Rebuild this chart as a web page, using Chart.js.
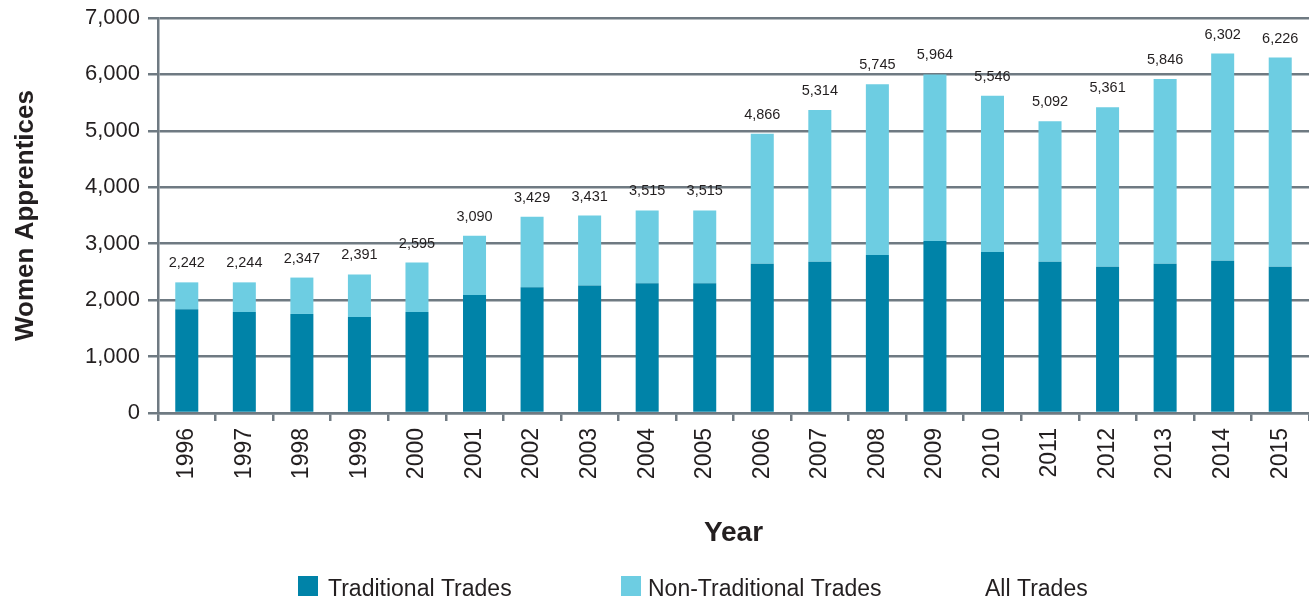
<!DOCTYPE html>
<html>
<head>
<meta charset="utf-8">
<title>Women Apprentices by Year</title>
<script src="https://cdn.jsdelivr.net/npm/chart.js@4.4.1/dist/chart.umd.min.js"></script>
<style>
  body { margin: 0; background: #fff; }
  .chart_box { width: 1309px; height: 601px; position: relative; }
</style>
</head>
<body>
<div class="chart_box"><canvas id="myChart"></canvas></div>
<script>
const years = ['1996', '1997', '1998', '1999', '2000', '2001', '2002', '2003', '2004', '2005',
               '2006', '2007', '2008', '2009', '2010', '2011', '2012', '2013', '2014', '2015'];
const traditional = [1840, 1790, 1755, 1700, 1790, 2090, 2230, 2260, 2300, 2300,
                     2645, 2680, 2800, 3050, 2855, 2680, 2590, 2645, 2700, 2590];
const nonTraditional = [475, 525, 645, 755, 875, 1050, 1250, 1240, 1290, 1290,
                        2305, 2690, 3025, 2950, 2765, 2490, 2830, 3275, 3670, 3710];
const allTrades = [2242, 2244, 2347, 2391, 2595, 3090, 3429, 3431, 3515, 3515,
                   4866, 5314, 5745, 5964, 5546, 5092, 5361, 5846, 6302, 6226];

const darkTeal = '#0083a8';
const lightBlue = '#6dcde2';
const gridGray = '#6f7a82';
const textColor = '#231f20';
const fontFamily = '"Liberation Sans", Arial, sans-serif';

Chart.defaults.font.family = fontFamily;
Chart.defaults.color = textColor;

// All Trades numbers sit just above each stacked bar
const totalLabels = {
  id: 'totalLabels',
  afterDatasetsDraw(chart) {
    const ctx = chart.ctx;
    const topBars = chart.getDatasetMeta(1).data;
    ctx.save();
    ctx.font = '14.5px ' + fontFamily;
    ctx.fillStyle = textColor;
    ctx.textAlign = 'center';
    ctx.textBaseline = 'alphabetic';
    topBars.forEach((bar, i) => {
      ctx.fillText(allTrades[i].toLocaleString('en-US'), bar.x, bar.y - 15);
    });
    ctx.restore();
  }
};

// legend drawn by hand, the items are spread wide in the original
const legendBoxX = [298, 621, 955];
const legendTextX = [328, 648, 985];
const bottomLegend = {
  id: 'bottomLegend',
  afterDraw(chart) {
    const ctx = chart.ctx;
    ctx.save();
    ctx.font = '23px ' + fontFamily;
    ctx.textBaseline = 'alphabetic';
    ctx.textAlign = 'left';
    chart.data.datasets.forEach((ds, i) => {
      if (ds.type !== 'line') {
        ctx.fillStyle = ds.backgroundColor;
        ctx.fillRect(legendBoxX[i], 576, 20, 20);
      }
      ctx.fillStyle = textColor;
      ctx.fillText(ds.label, legendTextX[i], 596);
    });
    ctx.restore();
  }
};

new Chart(document.getElementById('myChart'), {
  type: 'bar',
  data: {
    labels: years,
    datasets: [
      {
        label: 'Traditional Trades',
        data: traditional,
        backgroundColor: darkTeal,
        barPercentage: 0.4,
        categoryPercentage: 1,
      },
      {
        label: 'Non-Traditional Trades',
        data: nonTraditional,
        backgroundColor: lightBlue,
        barPercentage: 0.4,
        categoryPercentage: 1,
      },
      {
        type: 'line',
        label: 'All Trades',
        data: allTrades,
        stack: 'all',
        showLine: false,
        pointRadius: 0,
        borderColor: 'rgba(0,0,0,0)',
        backgroundColor: 'rgba(0,0,0,0)',
      }
    ]
  },
  options: {
    responsive: true,
    maintainAspectRatio: false,
    animation: false,
    layout: { padding: { top: 18, right: 0, bottom: 41, left: 0 } },
    plugins: {
      legend: { display: false },
      tooltip: { enabled: false },
    },
    scales: {
      x: {
        stacked: true,
        grid: { offset: true, drawOnChartArea: false, color: gridGray, lineWidth: 2.5, tickLength: 8 },
        border: { color: gridGray, width: 2.5 },
        ticks: { color: textColor, font: { size: 23 }, minRotation: 90, maxRotation: 90, padding: 7 },
        title: {
          display: true, text: 'Year', color: textColor,
          font: { size: 28, weight: 'bold' }, padding: { top: 0, bottom: 10 }
        },
        afterFit(scale) {
          scale.height = 147;
          scale.paddingLeft = 0;
          scale.paddingRight = 0;
        }
      },
      y: {
        stacked: true,
        min: 0,
        max: 7000,
        grid: { color: gridGray, lineWidth: 2.5, tickLength: 10 },
        border: { color: gridGray, width: 2.5 },
        ticks: {
          stepSize: 1000, color: textColor, font: { size: 22 }, padding: 8,
          callback: v => v.toLocaleString('en-US')
        },
        title: {
          display: true, text: 'Women Apprentices', color: textColor,
          font: { size: 26, weight: 'bold' }, padding: { top: 10, bottom: 0 }
        },
        afterFit(scale) {
          scale.width = 158;
          scale.paddingTop = 0;
          scale.paddingBottom = 0;
        }
      }
    }
  },
  plugins: [totalLabels, bottomLegend]
});
</script>
</body>
</html>
